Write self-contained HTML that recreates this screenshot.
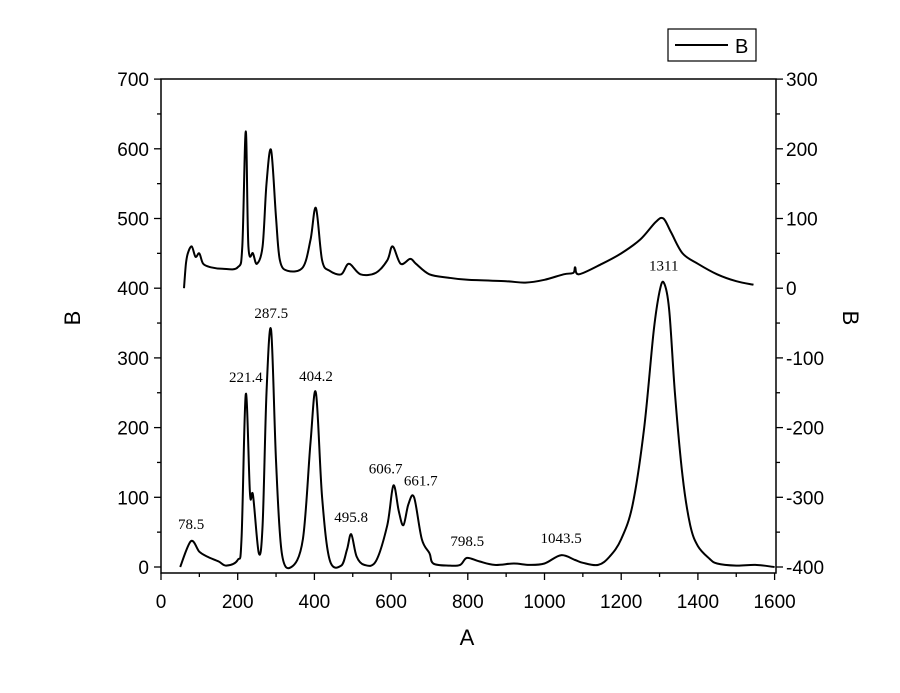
<!DOCTYPE html>
<html><head><meta charset="utf-8"><style>
body{margin:0;background:#fff;}
svg text{font-family:"Liberation Sans",sans-serif;fill:#000;}
.tk{font-size:19px;}
.pk{font-family:"Liberation Serif",serif !important;font-size:15px;}
</style></head><body>
<svg id="chart" width="900" height="688" viewBox="0 0 900 688" xmlns="http://www.w3.org/2000/svg">
<g id="axes"></g><g id="series"></g>
<g>
<rect x="668" y="29" width="88" height="32" fill="#fff" stroke="#000" stroke-width="1.2"/>
<line x1="675" y1="45" x2="728" y2="45" stroke="#000" stroke-width="2"/>
<text x="735" y="53" font-size="20">B</text>
</g>
<text x="467" y="645" font-size="22" text-anchor="middle">A</text>
<text transform="translate(80,318) rotate(-90)" font-size="22" text-anchor="middle">B</text>
<text transform="translate(843,318) rotate(90)" font-size="22" text-anchor="middle">B</text>
</svg>
<script>
const lowerX=[50,78,100,120,150,170,200,210,221,232,240,255,265,275,287,300,315,340,370,390,404,420,440,470,485,496,510,530,560,590,606,620,632,645,660,680,700,710,750,780,798,830,870,920,960,1000,1043,1080,1100,1140,1170,1200,1230,1260,1285,1300,1311,1325,1340,1360,1380,1400,1430,1450,1500,1550,1600];
const lowerY=[0,37,22,15,8,2,10,40,248,105,103,20,60,250,340,150,20,0,40,180,250,100,10,2,25,47,15,3,8,60,117,80,60,90,100,40,20,5,2,3,13,8,3,5,3,5,17,10,6,3,15,40,90,200,340,395,408,370,250,130,60,30,12,5,2,3,0];
const upperX=[60,65,70,80,90,100,110,130,160,200,212,221,228,240,250,265,275,287,300,310,330,370,390,404,420,440,470,490,520,560,590,604,625,650,665,700,750,800,900,950,1000,1050,1075,1080,1090,1150,1200,1250,1290,1310,1330,1360,1400,1450,1500,1545];
const upperY=[0,35,50,60,45,50,35,30,28,30,60,225,60,50,35,60,150,198,100,40,25,30,70,115,40,25,20,35,20,22,40,60,35,42,35,20,15,12,10,8,12,20,22,30,20,35,50,70,95,100,80,50,35,20,10,5];
const peakX=[78.5,221.4,287.5,404.2,495.8,606.7,661.7,798.5,1043.5,1311];
const peakLabels=["78.5","221.4","287.5","404.2","495.8","606.7","661.7","798.5","1043.5","1311"];
const peakY=[37,248,340,250,47,117,100,13,17,408];
const xTicks=[0,200,400,600,800,1000,1200,1400,1600];
const yTicksL=[0,100,200,300,400,500,600,700];
const yTicksR=[-400,-300,-200,-100,0,100,200,300];
const L=161,R=776,T=79,B=573;
const xs=v=>L+(v/1600)*(774.6-L);
const yl=v=>567-v*0.697;
const yr=v=>567-(v+400)*0.697;
const NS="http://www.w3.org/2000/svg";
function mk(t,a,p){const e=document.createElementNS(NS,t);for(const k in a)e.setAttribute(k,a[k]);p.appendChild(e);return e;}
function smooth(pts){let d='M'+pts[0][0].toFixed(1)+','+pts[0][1].toFixed(1);
 for(let i=0;i<pts.length-1;i++){const p0=pts[Math.max(0,i-1)],p1=pts[i],p2=pts[i+1],p3=pts[Math.min(pts.length-1,i+2)];
  const c1=[p1[0]+(p2[0]-p0[0])/6,p1[1]+(p2[1]-p0[1])/6],c2=[p2[0]-(p3[0]-p1[0])/6,p2[1]-(p3[1]-p1[1])/6];
  d+='C'+c1.map(v=>v.toFixed(1)).join(',')+' '+c2.map(v=>v.toFixed(1)).join(',')+' '+p2[0].toFixed(1)+','+p2[1].toFixed(1);}
 return d;}
const ax=document.getElementById('axes');
let f=mk('rect',{x:L,y:T,width:R-L,height:B-T,fill:'none',stroke:'#000','stroke-width':1.5},ax);


xTicks.forEach((v,i)=>{const x=xs(v);mk('line',{x1:x,y1:B,x2:x,y2:B+7,stroke:'#000','stroke-width':1.3},ax);
 if(i<xTicks.length-1){const xm=xs(v+100);mk('line',{x1:xm,y1:B,x2:xm,y2:B+4,stroke:'#000','stroke-width':1.3},ax);}
 const t=mk('text',{x:x,y:B+35,'text-anchor':'middle',class:'tk'},ax);t.textContent=v;
 
 });
yTicksL.forEach((v,i)=>{const y=yl(v);mk('line',{x1:L,y1:y,x2:L-7,y2:y,stroke:'#000','stroke-width':1.3},ax);
 if(i<yTicksL.length-1){const ym=yl(v+50);mk('line',{x1:L,y1:ym,x2:L-4,y2:ym,stroke:'#000','stroke-width':1.3},ax);}
 const t=mk('text',{x:L-12,y:y+7,'text-anchor':'end',class:'tk'},ax);t.textContent=v;
 
 });
yTicksR.forEach((v,i)=>{const y=yr(v);mk('line',{x1:R,y1:y,x2:R+7,y2:y,stroke:'#000','stroke-width':1.3},ax);
 if(i<yTicksR.length-1){const ym=yr(v+50);mk('line',{x1:R,y1:ym,x2:R+4,y2:ym,stroke:'#000','stroke-width':1.3},ax);}
 const t=mk('text',{x:R+10,y:y+7,'text-anchor':'start',class:'tk'},ax);t.textContent=v;
 
 });
const sg=document.getElementById('series');
let p1=mk('path',{d:smooth(lowerX.map((x,i)=>[xs(x),yl(lowerY[i])])),fill:'none',stroke:'#000','stroke-width':2,'stroke-linejoin':'round'},sg);


let p2=mk('path',{d:smooth(upperX.map((x,i)=>[xs(x),yr(upperY[i])])),fill:'none',stroke:'#000','stroke-width':2,'stroke-linejoin':'round'},sg);


peakX.forEach((x,i)=>{const t=mk('text',{x:xs(x)+(i==5?-8:i==6?6:0),y:yl(peakY[i])-12,'text-anchor':'middle',class:'pk'},sg);t.textContent=peakLabels[i];
 
 });
</script>
</body></html>
